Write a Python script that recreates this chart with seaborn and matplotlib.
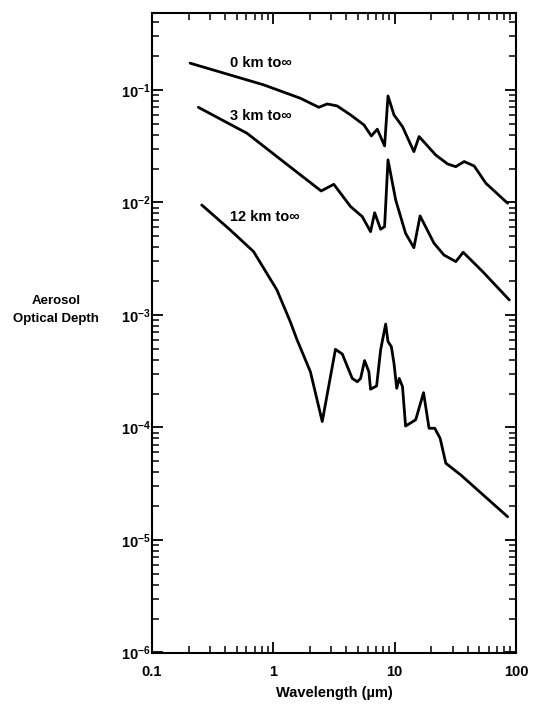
import numpy as np
import pandas as pd
import matplotlib
matplotlib.use("Agg")
import matplotlib.pyplot as plt
import matplotlib.ticker as mticker
import seaborn as sns

# ---- data ----
wl_0km = [0.206, 0.832, 1.67, 2.37, 2.78, 3.36, 4.33, 5.58, 6.42, 7.19, 8.26, 8.81,
          9.87, 11.6, 14.4, 15.9, 21.8, 27.3, 31.9, 37.4, 45.2, 56.5, 85.3]
tau_0km = [0.173, 0.111, 0.0844, 0.0701, 0.0751, 0.0721, 0.060, 0.0489, 0.039, 0.0448,
           0.0318, 0.0885, 0.060, 0.0472, 0.0283, 0.0385, 0.0264, 0.022, 0.0208, 0.0231,
           0.0211, 0.0148, 0.00984]

wl_3km = [0.241, 0.607, 1.67, 2.48, 3.15, 4.33, 5.41, 6.33, 6.84, 7.66, 8.26, 8.81,
          10.2, 12.3, 14.4, 16.2, 21.1, 25.5, 31.9, 36.7, 53.1, 88.1]
tau_3km = [0.0701, 0.0412, 0.0176, 0.01265, 0.0145, 0.0092, 0.00748, 0.0055, 0.0081,
           0.00578, 0.0061, 0.0239, 0.0105, 0.00532, 0.00396, 0.00759, 0.00434, 0.00341,
           0.00298, 0.00361, 0.00243, 0.00136]

wl_12km = [0.257, 0.441, 0.687, 1.07, 1.38, 1.57, 2.02, 2.53, 3.25, 3.70, 4.47, 4.92,
           5.24, 5.65, 6.13, 6.33, 7.10, 7.66, 8.43, 8.81, 9.39, 9.87, 10.4, 10.9, 11.6,
           12.3, 14.9, 17.3, 19.2, 21.4, 23.7, 26.4, 35.1, 85.3]
tau_12km = [0.0095, 0.0057, 0.00366, 0.00167, 0.00087, 0.0006, 0.000313, 0.000113,
            0.000495, 0.00045, 0.000273, 0.000255, 0.000273, 0.000393, 0.000313, 0.000219,
            0.000234, 0.000489, 0.00083, 0.00058, 0.000523, 0.000372, 0.000223, 0.000273,
            0.000231, 0.000103, 0.000117, 0.000204, 0.0000984, 0.0000984, 0.0000801,
            0.0000481, 0.0000378, 0.0000161]

series_names = ["0 km to\u221e", "3 km to\u221e", "12 km to\u221e"]
label_x = [0.44, 0.44, 0.44]
label_y = [0.174, 0.0588, 0.00743]

x_ticks = [0.1, 1, 10, 100]
x_ticklabels = ["0.1", "1", "10", "100"]
y_ticks = [1e-6, 1e-5, 1e-4, 1e-3, 1e-2, 1e-1]
y_ticklabels = [r"10$^{-6}$", r"10$^{-5}$", r"10$^{-4}$", r"10$^{-3}$", r"10$^{-2}$", r"10$^{-1}$"]

# ---- style ----
sns.set_style("ticks")
plt.rcParams["font.family"] = ["Liberation Sans", "DejaVu Sans"]
plt.rcParams["font.weight"] = "bold"
plt.rcParams["mathtext.fontset"] = "custom"
plt.rcParams["mathtext.rm"] = "Liberation Sans:bold"
plt.rcParams["mathtext.default"] = "rm"
plt.rcParams["text.color"] = "black"
plt.rcParams["axes.labelcolor"] = "black"
plt.rcParams["xtick.labelcolor"] = "black"
plt.rcParams["ytick.labelcolor"] = "black"

df = pd.concat([
    pd.DataFrame({"wl": wl_0km, "tau": tau_0km, "series": series_names[0]}),
    pd.DataFrame({"wl": wl_3km, "tau": tau_3km, "series": series_names[1]}),
    pd.DataFrame({"wl": wl_12km, "tau": tau_12km, "series": series_names[2]}),
], ignore_index=True)

fig = plt.figure(figsize=(5.35, 7.05), dpi=100)
ax = fig.add_axes([152 / 535, 52.5 / 705, 364 / 535, 639.5 / 705])

sns.lineplot(data=df, x="wl", y="tau", hue="series", palette=["black"] * 3,
             estimator=None, linewidth=2.0, legend=False, ax=ax, sort=False)

ax.set_xscale("log")
ax.set_yscale("log")
ax.set_xlim(0.1, 100)
ax.set_ylim(1e-6, 0.483)

ax.set_xticks(x_ticks)
ax.set_xticklabels(x_ticklabels, fontsize=10.5, fontweight="bold")
ax.set_yticks(y_ticks)
ax.set_yticklabels(y_ticklabels, fontsize=10.5)
ax.xaxis.set_minor_locator(mticker.LogLocator(base=10, subs=np.arange(2, 10), numticks=20))
ax.yaxis.set_minor_locator(mticker.LogLocator(base=10, subs=np.arange(2, 10), numticks=20))
ax.xaxis.set_minor_formatter(mticker.NullFormatter())
ax.yaxis.set_minor_formatter(mticker.NullFormatter())

ax.tick_params(which="both", direction="in", top=True, right=True, color="black",
               labelcolor="black")
ax.tick_params(which="major", length=8, width=1.3)
ax.tick_params(which="minor", length=5, width=1.1)
ax.tick_params(axis="x", which="major", pad=9)
ax.tick_params(axis="y", which="major", pad=1)
for s in ax.spines.values():
    s.set_visible(True)
    s.set_linewidth(1.5)
    s.set_color("black")

ax.set_xlabel("Wavelength (\u00b5m)", fontsize=10.5, fontweight="bold", labelpad=5,
              color="black")
ax.set_ylabel("")
fig.text(56 / 535, 1 - 310 / 705, "Aerosol\nOptical Depth", ha="center", va="center",
         multialignment="center", fontsize=9.5, fontweight="bold", linespacing=1.6,
         color="black")

for name, lx, ly in zip(series_names, label_x, label_y):
    ax.text(lx, ly, name, fontsize=10.5, fontweight="bold", ha="left", va="center",
            color="black")

fig.savefig("out.png", dpi=100)
